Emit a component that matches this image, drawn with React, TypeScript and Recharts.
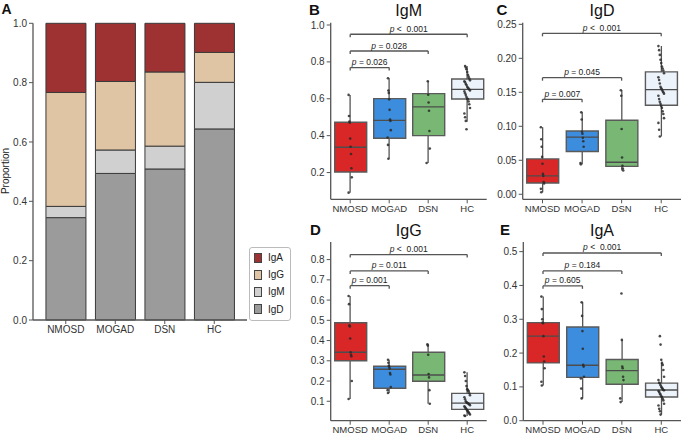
import React from 'react';
import { BarChart, Bar, XAxis, YAxis, Legend, ComposedChart, Scatter, ReferenceLine, Cell } from 'recharts';

const groups = ['NMOSD', 'MOGAD', 'DSN', 'HC'];

// Panel A: proportions
const propIgD = [0.345, 0.494, 0.509, 0.644];
const propIgM = [0.038, 0.079, 0.077, 0.157];
const propIgG = [0.384, 0.231, 0.25, 0.101];
const propIgA = [0.233, 0.196, 0.164, 0.098];
const propTicks = [0, 0.2, 0.4, 0.6, 0.8, 1.0];

// Panel B: IgM
const igmQ1 = [0.203, 0.386, 0.4, 0.599];
const igmMed = [0.337, 0.483, 0.556, 0.651];
const igmQ3 = [0.473, 0.601, 0.628, 0.707];
const igmLo = [0.091, 0.275, 0.252, 0.476];
const igmHi = [0.621, 0.711, 0.695, 0.778];
const igmPts = [
  [0.621, 0.507, 0.476, 0.47, 0.384, 0.34, 0.301, 0.223, 0.174, 0.091],
  [0.711, 0.645, 0.632, 0.597, 0.54, 0.487, 0.48, 0.43, 0.39, 0.35, 0.275],
  [0.695, 0.622, 0.58, 0.535, 0.425, 0.33, 0.252],
  [0.778, 0.77, 0.76, 0.745, 0.73, 0.72, 0.71, 0.7, 0.695, 0.69, 0.68, 0.675, 0.665, 0.66, 0.655, 0.65, 0.645, 0.64, 0.63, 0.62, 0.61, 0.6, 0.598, 0.585, 0.57, 0.55, 0.52, 0.5, 0.48, 0.435],
];
const igmP = ['= 0.026', '= 0.028', '<\u00a0\u00a00.001'];
const igmBracketY = [0.769, 0.859, 0.95];
const igmTicks = [0.2, 0.4, 0.6, 0.8, 1.0];

// Panel C: IgD
const igdQ1 = [0.0166, 0.063, 0.041, 0.131];
const igdMed = [0.027, 0.084, 0.047, 0.154];
const igdQ3 = [0.052, 0.093, 0.109, 0.18];
const igdLo = [0.003, 0.044, 0.035, 0.085];
const igdHi = [0.0985, 0.1205, 0.153, 0.218];
const igdPts = [
  [0.0985, 0.081, 0.07, 0.055, 0.045, 0.03, 0.027, 0.018, 0.016, 0.008, 0.003],
  [0.1205, 0.11, 0.092, 0.089, 0.083, 0.078, 0.07, 0.046, 0.044],
  [0.153, 0.145, 0.096, 0.054, 0.042, 0.038, 0.035],
  [0.218, 0.212, 0.205, 0.198, 0.193, 0.188, 0.185, 0.182, 0.178, 0.172, 0.168, 0.163, 0.158, 0.156, 0.154, 0.152, 0.15, 0.148, 0.145, 0.14, 0.136, 0.133, 0.13, 0.127, 0.122, 0.118, 0.112, 0.105, 0.095, 0.085],
];
const igdP = ['= 0.007', '= 0.045', '<\u00a0\u00a00.001'];
const igdBracketY = [0.1397, 0.1715, 0.2368];
const igdTicks = [0, 0.05, 0.1, 0.15, 0.2, 0.25];

// Panel D: IgG
const iggQ1 = [0.3005, 0.164, 0.199, 0.06];
const iggMed = [0.342, 0.258, 0.23, 0.091];
const iggQ3 = [0.488, 0.273, 0.342, 0.139];
const iggLo = [0.111, 0.141, 0.088, 0.027];
const iggHi = [0.62, 0.305, 0.382, 0.243];
const iggPts = [
  [0.62, 0.58, 0.475, 0.47, 0.41, 0.342, 0.33, 0.322, 0.2, 0.111],
  [0.305, 0.29, 0.275, 0.27, 0.262, 0.24, 0.232, 0.17, 0.155, 0.141],
  [0.382, 0.375, 0.33, 0.235, 0.218, 0.155, 0.088],
  [0.243, 0.225, 0.2, 0.175, 0.16, 0.155, 0.15, 0.14, 0.13, 0.12, 0.11, 0.1, 0.095, 0.092, 0.09, 0.088, 0.085, 0.08, 0.075, 0.07, 0.065, 0.06, 0.055, 0.05, 0.045, 0.04, 0.035, 0.03, 0.027],
];
const iggP = ['= 0.001', '= 0.011', '<\u00a0\u00a00.001'];
const iggBracketY = [0.671, 0.744, 0.825];
const iggTicks = [0.1, 0.2, 0.3, 0.4, 0.5, 0.6, 0.7, 0.8];

// Panel E: IgA
const igaQ1 = [0.171, 0.128, 0.108, 0.07];
const igaMed = [0.25, 0.164, 0.148, 0.091];
const igaQ3 = [0.29, 0.277, 0.181, 0.111];
const igaLo = [0.104, 0.066, 0.055, 0.018];
const igaHi = [0.367, 0.35, 0.239, 0.171];
const igaPts = [
  [0.367, 0.33, 0.3, 0.29, 0.288, 0.25, 0.19, 0.175, 0.155, 0.115, 0.104],
  [0.35, 0.31, 0.265, 0.213, 0.165, 0.16, 0.13, 0.125, 0.095, 0.066],
  [0.376, 0.239, 0.16, 0.155, 0.13, 0.12, 0.066, 0.055],
  [0.25, 0.225, 0.18, 0.171, 0.165, 0.15, 0.13, 0.12, 0.112, 0.11, 0.105, 0.1, 0.097, 0.094, 0.091, 0.09, 0.088, 0.085, 0.08, 0.077, 0.072, 0.07, 0.065, 0.06, 0.05, 0.045, 0.035, 0.028, 0.018],
];
const igaP = ['= 0.605', '= 0.184', '<\u00a0\u00a00.001'];
const igaBracketY = [0.399, 0.443, 0.496];
const igaTicks = [0, 0.1, 0.2, 0.3, 0.4, 0.5];

// styles
const FONT = '"Liberation Sans", Arial, sans-serif';
const BOX_COLORS = ['#d92626', '#3c8ddd', '#78b874', '#edf3fb'];
const STACK = [
  { key: 'IgD', color: '#9b9b9b' },
  { key: 'IgM', color: '#d0d0d0' },
  { key: 'IgG', color: '#dfc5a4' },
  { key: 'IgA', color: '#9e3233' },
];
const AX = '#555';
const TICK_FILL = '#333333';

type PanelData = {
  q1: number[]; med: number[]; q3: number[]; lo: number[]; hi: number[];
  pts: number[][]; pv: string[]; by: number[]; ticks: number[]; digits: number; domain: [number, number];
};
type Layout = { left: number; top: number; width: number; height: number; yw: number; mt: number; mr: number; mb: number; xh: number };

const Whisker = (p: any) => {
  if (p.x == null) return null;
  const cx = p.x + p.width / 2;
  return <line x1={cx} x2={cx} y1={p.y} y2={p.y + p.height} stroke={AX} strokeWidth={1.3} />;
};

const MedianLine = (p: any) => {
  if (p.cx == null) return null;
  return <line x1={p.cx - 16} x2={p.cx + 16} y1={p.cy} y2={p.cy} stroke="#4d4d4d" strokeWidth={1.4} />;
};

const Dot = (p: any) => {
  if (p.cx == null) return null;
  const k = p.payload?.k ?? 0;
  const gi = p.payload?.gi ?? 0;
  const amp = gi === 3 ? 0.7 : 0.4;
  const j = (((k * 37) % 9) - 4) * amp;
  return <circle cx={p.cx + j} cy={p.cy} r={1.3} fill="#2a2a2a" fillOpacity={0.85} />;
};

const PLabel = (props: any) => {
  const vb = props.viewBox || {};
  if (vb.x == null) return null;
  const x = vb.x + (vb.width || 0) / 2;
  const y = vb.y - 2.5;
  return (
    <text x={x} y={y} textAnchor="middle" fontSize={8.5} fill="#222" fontFamily={FONT}>
      <tspan fontStyle="italic">p</tspan>
      {' ' + props.text}
    </text>
  );
};

function BoxPanel({ d, l }: { d: PanelData; l: Layout }) {
  const rows = groups.map((g, i) => ({ name: g, box: [d.q1[i], d.q3[i]], wh: [d.lo[i], d.hi[i]] }));
  const medRows = groups.map((g, i) => ({ name: g, v: d.med[i] }));
  const ptRows: any[] = [];
  let k = 0;
  groups.forEach((g, i) => d.pts[i].forEach((v) => ptRows.push({ name: g, v, k: k++, gi: i })));
  const tk = (d.domain[1] - d.domain[0]) * 0.017;
  const brackets: any[] = [];
  d.pv.forEach((pv, j) => {
    const g2 = groups[j + 1];
    const y = d.by[j];
    brackets.push(
      <ReferenceLine key={'h' + j} xAxisId="b" segment={[{ x: groups[0], y }, { x: g2, y }]} stroke={AX} strokeWidth={1.3} ifOverflow="visible" label={<PLabel text={pv} />} />,
      <ReferenceLine key={'l' + j} xAxisId="b" segment={[{ x: groups[0], y }, { x: groups[0], y: y - tk }]} stroke={AX} strokeWidth={1.3} ifOverflow="visible" />,
      <ReferenceLine key={'r' + j} xAxisId="b" segment={[{ x: g2, y }, { x: g2, y: y - tk }]} stroke={AX} strokeWidth={1.3} ifOverflow="visible" />
    );
  });
  return (
    <div style={{ position: 'absolute', left: l.left, top: l.top }}>
      <ComposedChart width={l.width} height={l.height} data={rows} margin={{ top: l.mt, right: l.mr, bottom: l.mb, left: 0 }}>
        <XAxis xAxisId="b" dataKey="name" allowDuplicatedCategory={false} height={l.xh} tickSize={4} tickMargin={2} interval={0}
          tick={{ fill: TICK_FILL, fontSize: 9.5 }} axisLine={{ stroke: AX, strokeWidth: 1.3 }} tickLine={{ stroke: AX }} />
        <XAxis xAxisId="t" dataKey="name" allowDuplicatedCategory={false} orientation="top" height={0} tick={false} tickLine={false}
          axisLine={{ stroke: AX, strokeWidth: 1.3 }} />
        <YAxis domain={d.domain} allowDataOverflow ticks={d.ticks} interval={0} width={l.yw} tickSize={4} tickMargin={2}
          tickFormatter={(v: number) => v.toFixed(d.digits)} tick={{ fill: TICK_FILL, fontSize: 10 }}
          axisLine={{ stroke: AX, strokeWidth: 1.3 }} tickLine={{ stroke: AX }} />
        <YAxis yAxisId="r" orientation="right" domain={d.domain} allowDataOverflow width={0} tick={false} tickLine={false}
          axisLine={{ stroke: AX, strokeWidth: 1.3 }} />
        <Bar xAxisId="t" data={rows} dataKey="wh" isAnimationActive={false} shape={Whisker} />
        <Bar xAxisId="b" data={rows} dataKey="box" barSize={32} isAnimationActive={false} stroke="#5a5a5a" strokeWidth={1.4}>
          {rows.map((_, i) => <Cell key={i} fill={BOX_COLORS[i]} />)}
        </Bar>
        <Scatter xAxisId="b" data={medRows} dataKey="v" shape={MedianLine} isAnimationActive={false} />
        <Scatter xAxisId="b" data={ptRows} dataKey="v" shape={Dot} isAnimationActive={false} />
        {brackets}
      </ComposedChart>
    </div>
  );
}

const LegendBox = () => {
  const items = [...STACK].reverse();
  return (
    <div style={{ border: '1px solid #bbb', borderRadius: 3, background: '#fff', width: 40, height: 71, boxSizing: 'content-box', paddingTop: 1, fontFamily: FONT }}>
      {items.map((s) => (
        <div key={s.key} style={{ height: 17.2, display: 'flex', alignItems: 'center' }}>
          <div style={{ width: 6, height: 8, marginLeft: 4, marginRight: 6, background: s.color, border: '1px solid #444' }} />
          <span style={{ fontSize: 10, color: '#222' }}>{s.key}</span>
        </div>
      ))}
    </div>
  );
};

const panels: { d: PanelData; l: Layout }[] = [
  { d: { q1: igmQ1, med: igmMed, q3: igmQ3, lo: igmLo, hi: igmHi, pts: igmPts, pv: igmP, by: igmBracketY, ticks: igmTicks, digits: 1, domain: [0.055, 1.0125] },
    l: { left: 290, top: 0, width: 200, height: 220, yw: 40.7, mt: 22.7, mr: 3.3, mb: 0.7, xh: 20 } },
  { d: { q1: igdQ1, med: igdMed, q3: igdQ3, lo: igdLo, hi: igdHi, pts: igdPts, pv: igdP, by: igdBracketY, ticks: igdTicks, digits: 2, domain: [-0.0074, 0.2524] },
    l: { left: 480, top: 0, width: 205, height: 220, yw: 42.7, mt: 22.7, mr: 4, mb: 0.7, xh: 20 } },
  { d: { q1: iggQ1, med: iggMed, q3: iggQ3, lo: iggLo, hi: iggHi, pts: iggPts, pv: iggP, by: iggBracketY, ticks: iggTicks, digits: 1, domain: [0.004, 0.887] },
    l: { left: 290, top: 220, width: 200, height: 218, yw: 40.7, mt: 22, mr: 3.3, mb: 0.3, xh: 17 } },
  { d: { q1: igaQ1, med: igaMed, q3: igaQ3, lo: igaLo, hi: igaHi, pts: igaPts, pv: igaP, by: igaBracketY, ticks: igaTicks, digits: 1, domain: [0, 0.5285] },
    l: { left: 480, top: 220, width: 205, height: 218, yw: 43.3, mt: 22, mr: 4, mb: 0.3, xh: 17 } },
];

export default function App() {
  const propRows = groups.map((g, i) => ({ name: g, IgD: propIgD[i], IgM: propIgM[i], IgG: propIgG[i], IgA: propIgA[i] }));
  return (
    <div style={{ position: 'absolute', left: 0, top: 0, width: 685, height: 438, overflow: 'hidden', background: '#fff', fontFamily: FONT }}>
      <div style={{ position: 'absolute', left: 0, top: 0 }}>
        <BarChart width={300} height={345} data={propRows} margin={{ top: 23.3, right: 53, bottom: 5, left: 0 }} barCategoryGap="10%">
          <XAxis dataKey="name" padding={{ left: 8, right: 8 }} height={20} tickSize={4} tickMargin={2} interval={0}
            tick={{ fill: TICK_FILL, fontSize: 10 }} axisLine={{ stroke: AX, strokeWidth: 1.3 }} tickLine={{ stroke: AX }} />
          <YAxis domain={[0, 1]} ticks={propTicks} interval={0} width={33} tickSize={4} tickMargin={2}
            tickFormatter={(v: number) => v.toFixed(1)} tick={{ fill: TICK_FILL, fontSize: 10 }}
            axisLine={{ stroke: AX, strokeWidth: 1.3 }} tickLine={{ stroke: AX }} />
          {STACK.map((s) => (
            <Bar key={s.key} dataKey={s.key} stackId="a" fill={s.color} stroke="#3a3a3a" strokeWidth={1} isAnimationActive={false} />
          ))}
          <Legend layout="vertical" align="center" verticalAlign="middle" wrapperStyle={{ left: 249, top: 247, width: 42, height: 73 }} content={LegendBox} />
        </BarChart>
      </div>
      {panels.map((p, i) => <BoxPanel key={i} d={p.d} l={p.l} />)}
      <svg width={685} height={438} style={{ position: 'absolute', left: 0, top: 0, pointerEvents: 'none' }} fontFamily={FONT}>
        <text x={1.5} y={14} fontSize={14} fontWeight="bold" fill="#111">A</text>
        <text x={9} y={171} fontSize={10} fill="#222" textAnchor="middle" transform="rotate(-90 9 171)">Proportion</text>
        <text x={309} y={15} fontSize={15} fontWeight="bold" fill="#111">B</text>
        <text x={408.7} y={16} fontSize={16} fill="#111" textAnchor="middle">IgM</text>
        <text x={496.5} y={15} fontSize={15} fontWeight="bold" fill="#111">C</text>
        <text x={602} y={16} fontSize={16} fill="#111" textAnchor="middle">IgD</text>
        <text x={310} y={235} fontSize={15} fontWeight="bold" fill="#111">D</text>
        <text x={408.7} y={236} fontSize={16} fill="#111" textAnchor="middle">IgG</text>
        <text x={500} y={235} fontSize={15} fontWeight="bold" fill="#111">E</text>
        <text x={602} y={236} fontSize={16} fill="#111" textAnchor="middle">IgA</text>
      </svg>
    </div>
  );
}
